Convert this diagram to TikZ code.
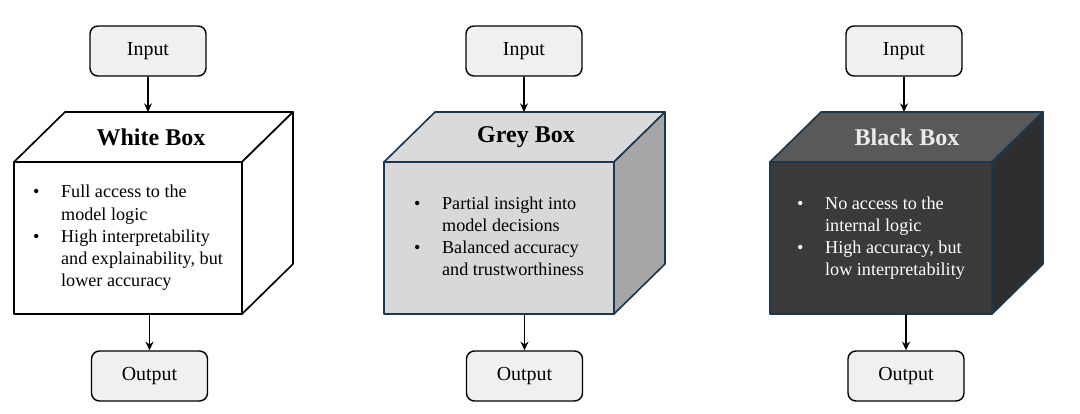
\documentclass[tikz,border=0pt]{standalone}
\usepackage{fontspec}
\setmainfont{Liberation Serif}
\usepackage{xcolor}
\usetikzlibrary{arrows.meta,positioning,calc}
\definecolor{IOc}{RGB}{240,240,240}
\definecolor{Edgec}{RGB}{27,56,80}
\definecolor{GreyFront}{RGB}{216,216,216}
\definecolor{GreyTop}{RGB}{218,218,218}
\definecolor{GreySide}{RGB}{166,166,166}
\definecolor{BlkFront}{RGB}{58,58,58}
\definecolor{BlkTop}{RGB}{89,89,89}
\definecolor{BlkSide}{RGB}{46,46,46}
\newcommand{\bodyfont}{\fontsize{15.5}{19}\selectfont}
\tikzset{
  io/.style={rounded corners=2.4mm,draw=black,line width=1.2pt,fill=IOc,
             minimum width=34.8mm,minimum height=15mm,
             font=\fontsize{17}{20}\selectfont},
  face/.style={line width=1.4pt,line join=round},
  front/.style={face,minimum height=45.6mm,inner sep=0pt,outer sep=0pt,
                font=\bodyfont},
  ttl/.style={font=\fontsize{20.5}{24}\selectfont\bfseries},
  flow/.style={-{Stealth[length=2.6mm,width=2.4mm]},line width=1.4pt},
}

\begin{document}
\begin{tikzpicture}[x=0.3mm,y=-0.3mm]
  \useasboundingbox (0,0) rectangle (1080,414);

  % white box
  \node[io] (in1) at (148,51) {Input};
  \node[front,draw=black,fill=white,minimum width=68.4mm] (wb) at (128,238)
  {\begin{tabular}{@{}p{8.4mm}@{}l@{}}
   \textbullet & Full access to the\\
               & model logic\\
   \textbullet & High interpretability\\
               & and explainability, but\\
               & lower accuracy
   \end{tabular}};
  \coordinate (wbtl) at ($(wb.north west)+(51,-50)$);
  \coordinate (wbtr) at ($(wb.north east)+(51,-50)$);
  \coordinate (wbbr) at ($(wb.south east)+(51,-50)$);
  \draw[face,fill=white] (wb.north west) -- (wbtl) -- (wbtr) -- (wb.north east) -- cycle;
  \draw[face,fill=white] (wb.north east) -- (wbtr) -- (wbbr) -- (wb.south east) -- cycle;
  \node[ttl] (wbt) at ($(wb.north)+(23,-25)$) {White Box};
  \node[io] (out1) at (149.5,376) {Output};
  \draw[flow] (in1.south) -- (in1 |- wbtl);
  \draw[flow] (out1 |- wb.south) -- (out1.north);

  % grey box
  \node[io] (in2) at (524,51) {Input};
  \node[front,draw=Edgec,fill=GreyFront,minimum width=69mm] (gb) at (499,238)
  {\begin{tabular}{@{}p{8.4mm}@{}l@{}}
   \textbullet & Partial insight into\\
               & model decisions\\
   \textbullet & Balanced accuracy\\
               & and trustworthiness
   \end{tabular}};
  \coordinate (gbtl) at ($(gb.north west)+(51,-50)$);
  \coordinate (gbtr) at ($(gb.north east)+(51,-50)$);
  \coordinate (gbbr) at ($(gb.south east)+(51,-50)$);
  \draw[face,draw=Edgec,fill=GreyTop] (gb.north west) -- (gbtl) -- (gbtr) -- (gb.north east) -- cycle;
  \draw[face,draw=Edgec,fill=GreySide] (gb.north east) -- (gbtr) -- (gbbr) -- (gb.south east) -- cycle;
  \node[ttl] (gbt) at ($(gb.north)+(27,-25)$) {Grey Box};
  \node[io] (out2) at (524.5,376) {Output};
  \draw[flow] (in2.south) -- (in2 |- gbtl);
  \draw[flow] (out2 |- gb.south) -- (out2.north);

  % black box
  \node[io] (in3) at (904,51) {Input};
  \node[front,draw=Edgec,fill=BlkFront,text=white,minimum width=66.6mm] (bb) at (881,238)
  {\begin{tabular}{@{}p{8.4mm}@{}l@{}}
   \textbullet & No access to the\\
               & internal logic\\
   \textbullet & High accuracy, but\\
               & low interpretability
   \end{tabular}};
  \coordinate (bbtl) at ($(bb.north west)+(51,-50)$);
  \coordinate (bbtr) at ($(bb.north east)+(51,-50)$);
  \coordinate (bbbr) at ($(bb.south east)+(51,-50)$);
  \draw[face,draw=Edgec,fill=BlkTop] (bb.north west) -- (bbtl) -- (bbtr) -- (bb.north east) -- cycle;
  \draw[face,draw=Edgec,fill=BlkSide] (bb.north east) -- (bbtr) -- (bbbr) -- (bb.south east) -- cycle;
  \node[ttl,text=white!92!black] (bbt) at ($(bb.north)+(26,-25)$) {Black Box};
  \node[io] (out3) at (906,376) {Output};
  \draw[flow] (in3.south) -- (in3 |- bbtl);
  \draw[flow] (out3 |- bb.south) -- (out3.north);
\end{tikzpicture}
\end{document}
